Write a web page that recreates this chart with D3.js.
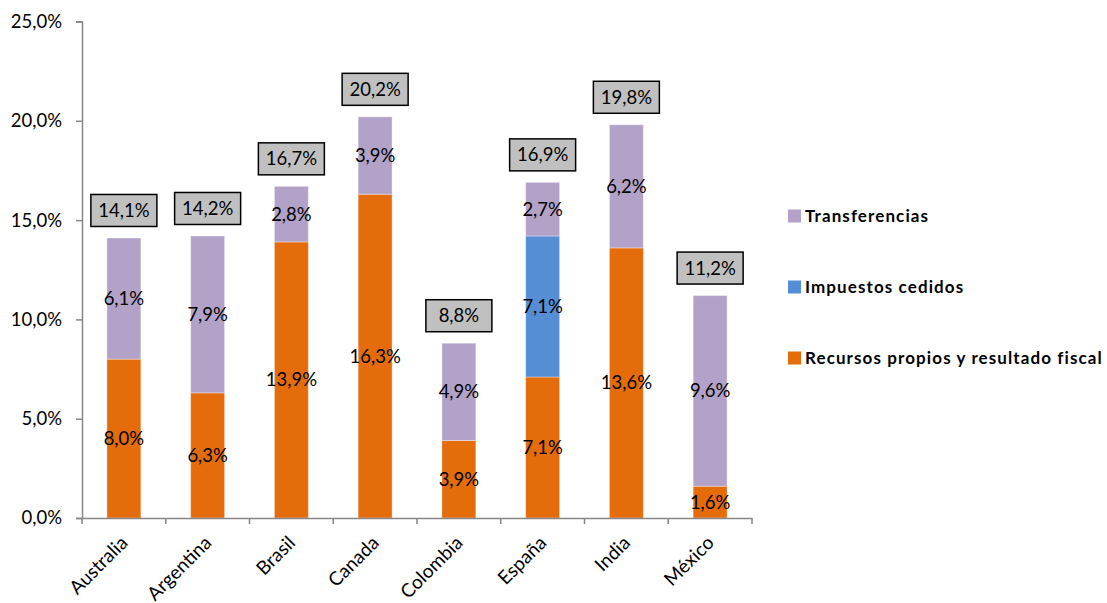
<!DOCTYPE html>
<html>
<head>
<meta charset="utf-8">
<script src="https://cdn.jsdelivr.net/npm/d3@7"></script>
<style>
  body { margin: 0; background: #fff; }
  svg text { font-family: Lato, "Open Sans", sans-serif; fill: #000; }
</style>
</head>
<body>
<svg width="1107" height="603"></svg>
<script>
var paises = ["Australia", "Argentina", "Brasil", "Canada", "Colombia", "España", "India", "México"];
var recursos = [8.0, 6.3, 13.9, 16.3, 3.9, 7.1, 13.6, 1.6];
var impuestos = [0, 0, 0, 0, 0, 7.1, 0, 0];
var transferencias = [6.1, 7.9, 2.8, 3.9, 4.9, 2.7, 6.2, 9.6];
var totales = [14.1, 14.2, 16.7, 20.2, 8.8, 16.9, 19.8, 11.2];
var yTicks = [0, 5, 10, 15, 20, 25];

var series = [
    { "name": "Recursos propios y resultado fiscal", "values": recursos, "color": "#E46C0A" },
    { "name": "Impuestos cedidos", "values": impuestos, "color": "#558ED5" },
    { "name": "Transferencias", "values": transferencias, "color": "#B3A2C7" }
];

var plotLeft = 82, plotRight = 752, plotTop = 21.5, plotBottom = 518;
var fmt = function(v) { return v.toFixed(1).replace(".", ",") + "%"; };

var svg = d3.select("svg");

var x = d3.scaleBand(paises, [plotLeft, plotRight]).paddingInner(0.595).paddingOuter(0.2975);
var xCat = d3.scaleBand(paises, [plotLeft, plotRight]);
var y = d3.scaleLinear([0, 25], [plotBottom, plotTop]);

// Y Axis
var yAxis = d3.axisLeft(y).tickValues(yTicks).tickSize(6).tickFormat(fmt);
var gy = svg.append("g")
    .attr("transform", "translate(" + plotLeft + ",0)")
    .call(yAxis);
gy.select(".domain").attr("stroke", "#868686").attr("stroke-width", 1.5);
gy.selectAll(".tick line").attr("stroke", "#868686").attr("stroke-width", 1.5);
gy.selectAll(".tick text")
    .attr("x", -20)
    .style("font-size", "18.5px")
    .attr("fill", "#000");

// Stacked bars
var stackData = paises.map(function(p, i) {
    var row = { "pais": p };
    series.forEach(function(s) { row[s.name] = s.values[i]; });
    return row;
});
var stack = d3.stack().keys(series.map(function(s) { return s.name; }));
var layers = stack(stackData);

layers.forEach(function(layer, k) {
    svg.append("g").selectAll("rect")
        .data(layer.filter(function(d) { return d[1] - d[0] > 0; }))
        .enter()
            .append("rect")
            .attr("x", function(d) { return x(d.data.pais); })
            .attr("width", x.bandwidth())
            .attr("y", function(d) { return y(d[1]); })
            .attr("height", function(d) { return y(d[0]) - y(d[1]); })
            .attr("fill", series[k].color)
            .attr("stroke", "#fff")
            .attr("stroke-opacity", 0.35)
            .attr("stroke-width", 1);
});
layers.forEach(function(layer, k) {
    svg.append("g").selectAll("text")
        .data(layer.filter(function(d) { return d[1] - d[0] > 0; }))
        .enter()
            .append("text")
            .attr("x", function(d) { return x(d.data.pais) + x.bandwidth() / 2; })
            .attr("y", function(d) { return y((d[0] + d[1]) / 2); })
            .attr("text-anchor", "middle")
            .attr("dy", "0.35em")
            .style("font-size", "18.5px")
            .text(function(d) { return fmt(d[1] - d[0]); });
});

// X Axis
var xAxis = d3.axisBottom(xCat).tickValues([]).tickSizeOuter(0);
var gx = svg.append("g")
    .attr("transform", "translate(0," + plotBottom + ")")
    .call(xAxis);
gx.select(".domain").attr("stroke", "#868686").attr("stroke-width", 1.5);
gx.selectAll(".sep")
    .data(paises)
    .enter()
        .append("line")
        .attr("x1", function(d) { return xCat(d); })
        .attr("x2", function(d) { return xCat(d); })
        .attr("y1", 0)
        .attr("y2", 6)
        .attr("stroke", "#868686")
        .attr("stroke-width", 1.5);
gx.append("line")
    .attr("x1", plotRight).attr("x2", plotRight)
    .attr("y1", 0).attr("y2", 6)
    .attr("stroke", "#868686").attr("stroke-width", 1.5);

svg.append("g").selectAll("text")
    .data(paises)
    .enter()
        .append("text")
        .attr("transform", function(d) {
            return "translate(" + (x(d) + x.bandwidth() / 2 + 5) + "," + (plotBottom + 26) + ") rotate(-45)";
        })
        .attr("text-anchor", "end")
        .style("font-size", "19px")
        .text(function(d) { return d; });

// Total boxes
var boxW = 66, boxH = 32;
var totals = svg.append("g").selectAll("g")
    .data(paises)
    .enter()
        .append("g")
        .attr("transform", function(d, i) {
            return "translate(" + (x(d) + x.bandwidth() / 2) + "," + (y(totales[i]) - 11.5 - boxH / 2) + ")";
        });
totals.append("rect")
    .attr("x", -boxW / 2)
    .attr("y", -boxH / 2)
    .attr("width", boxW)
    .attr("height", boxH)
    .attr("fill", "#C0C0C0")
    .attr("stroke", "#000")
    .attr("stroke-width", 1.5);
totals.append("text")
    .attr("text-anchor", "middle")
    .attr("dy", "0.35em")
    .style("font-size", "18.5px")
    .text(function(d, i) { return fmt(totales[i]); });

// Legend
var legendItems = [series[2], series[1], series[0]];
var legend = svg.append("g").selectAll("g")
    .data(legendItems)
    .enter()
        .append("g")
        .attr("transform", function(d, i) { return "translate(788," + (216 + i * 71) + ")"; });
legend.append("rect")
    .attr("x", 0)
    .attr("y", -6.5)
    .attr("width", 13)
    .attr("height", 13)
    .attr("fill", function(d) { return d.color; });
legend.append("text")
    .attr("x", 17)
    .attr("dy", "0.35em")
    .style("font-size", "17px")
    .style("font-weight", "bold")
    .style("letter-spacing", "1.1px")
    .text(function(d) { return d.name; });
</script>
</body>
</html>
